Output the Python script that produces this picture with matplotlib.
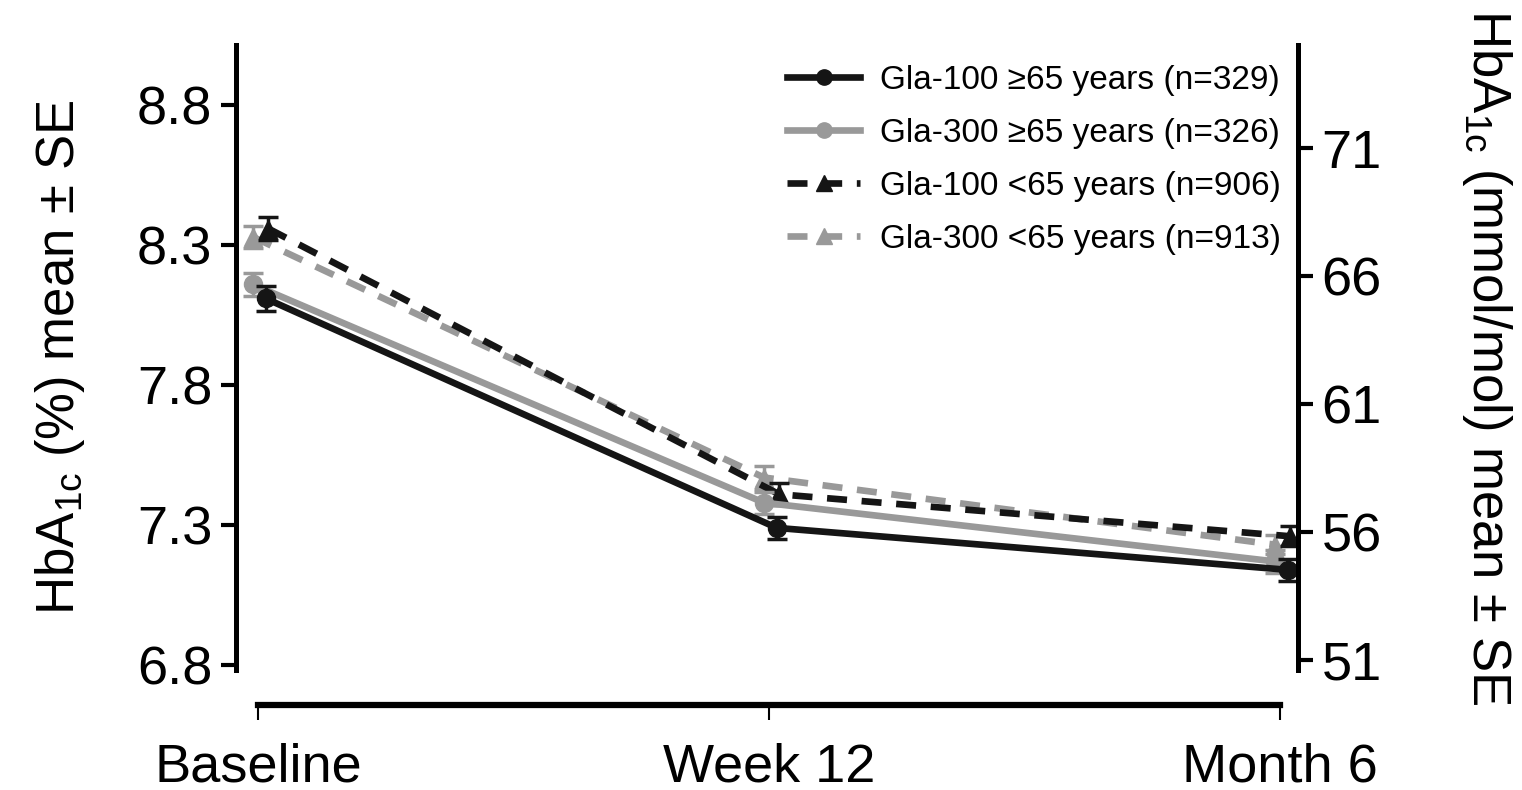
import numpy as np
import matplotlib.pyplot as plt
from matplotlib.lines import Line2D

plt.rcParams['font.family'] = ['Liberation Sans', 'DejaVu Sans']
plt.rcParams['mathtext.default'] = 'regular'

timepoints = ['Baseline', 'Week 12', 'Month 6']
labels = ['Gla-100 \u226565 years (n=329)', 'Gla-300 \u226565 years (n=326)',
          'Gla-100 <65 years (n=906)', 'Gla-300 <65 years (n=913)']
gla100_old = [8.11, 7.29, 7.14]
gla100_old_se = [0.045, 0.04, 0.04]
gla300_old = [8.16, 7.38, 7.17]
gla300_old_se = [0.04, 0.04, 0.04]
gla100_young = [8.36, 7.41, 7.26]
gla100_young_se = [0.04, 0.04, 0.035]
gla300_young = [8.33, 7.47, 7.23]
gla300_young_se = [0.04, 0.04, 0.035]

black = '#151515'
grey = '#999999'
dash = (0, (3.0, 2.2))

fig = plt.figure(figsize=(15.22, 7.9), dpi=100)
ax = fig.add_axes([236/1522, 1-670/790, (1298-236)/1522, 625/790])
x = np.arange(len(timepoints))

series = [
    (gla100_old, gla100_old_se, black, '-', 'o', 0.015, 5),
    (gla300_old, gla300_old_se, grey, '-', 'o', -0.01, 4),
    (gla100_young, gla100_young_se, black, dash, '^', 0.02, 3),
    (gla300_young, gla300_young_se, grey, dash, '^', -0.01, 2),
]
handles = []
for (vals, se, c, ls, m, dx, z), lab in zip(series, labels):
    ax.errorbar(x + dx, vals, yerr=se, color=c, ls=ls, marker=m, ms=13,
                lw=4.8, elinewidth=2.5, capsize=7, capthick=2.5, zorder=z)
    handles.append(Line2D([], [], color=c, ls=ls, marker=m, ms=11, lw=4.8, label=lab))

ax.set_xlim(-0.043, 2.035)
ax.set_ylim(6.782, 9.016)
ax.set_yticks([6.8, 7.3, 7.8, 8.3, 8.8])
ax.set_xticks(x)
ax.set_xticklabels(timepoints)
ax.spines['top'].set_visible(False)
ax.spines['right'].set_visible(False)
ax.spines['bottom'].set_position(('outward', 25))
ax.spines['bottom'].set_bounds(0, 2)
ax.spines['bottom'].set_linewidth(4.5)
ax.spines['left'].set_linewidth(3.6)
ax.tick_params(axis='y', labelsize=39, length=11, width=3, pad=6)
ax.tick_params(axis='x', labelsize=39, length=11, width=1.5, pad=16)
ax.set_ylabel('HbA$_{1c}$ (%) mean \u00b1 SE', fontsize=38, labelpad=36)

ax2 = ax.twinx()
lo, hi = ax.get_ylim()
ax2.set_ylim(10.929 * (lo - 2.15), 10.929 * (hi - 2.15))
ax2.set_yticks([51, 56, 61, 66, 71])
for s in ['top', 'left', 'bottom']:
    ax2.spines[s].set_visible(False)
ax2.spines['right'].set_linewidth(3.6)
ax2.tick_params(axis='y', labelsize=39, length=11, width=3, pad=6)
ax2.set_ylabel('HbA$_{1c}$ (mmol/mol) mean \u00b1 SE', fontsize=38, rotation=270,
               labelpad=95)

ax.legend(handles=handles, loc='upper right', bbox_to_anchor=(1.003, 1.0), frameon=False,
          fontsize=24, handlelength=2.2, handletextpad=0.6, labelspacing=0.66,
          borderaxespad=0.2)

fig.savefig('out.png', dpi=100)
